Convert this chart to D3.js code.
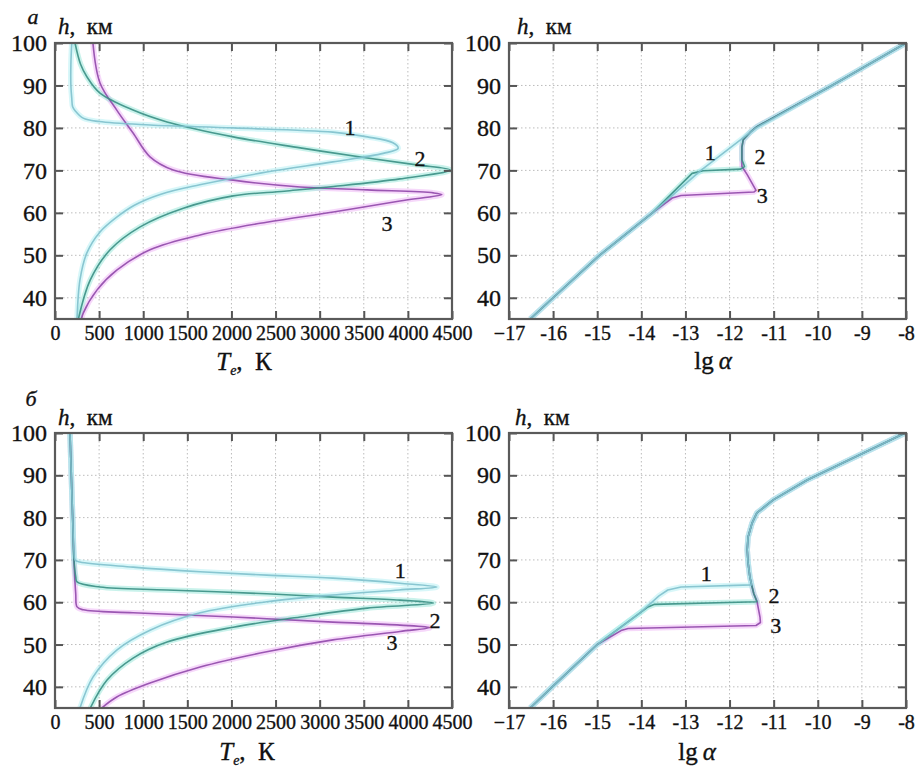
<!DOCTYPE html>
<html><head><meta charset="utf-8">
<script src="https://cdn.jsdelivr.net/npm/d3@7"></script>
<style>
body{margin:0;background:#fff}
svg{display:block}
text{font-family:"Liberation Serif","Times New Roman",Times,"DejaVu Serif",serif;fill:#111}
</style>
</head><body><div id="chart"></div>
<script>
// ---------- data ----------
const heightTicks = [40, 50, 60, 70, 80, 90, 100];
const tempTicks = [0, 500, 1000, 1500, 2000, 2500, 3000, 3500, 4000, 4500];
const alphaTicks = [-17, -16, -15, -14, -13, -12, -11, -10, -9, -8];
const alphaTickLabels = ["\u221217", "-16", "-15", "-14", "-13", "-12", "-11", "-10", "-9", "-8"];
const curveNames = ["1", "2", "3"];

// panel а, Te (K) vs h (km)
const aTemp1 = [[190,100],[180,95],[180,90],[190,87],[200,85],[230,84],[320,82.3],[500,81.5],[1077,80.7],[2020,80],[3150,79],[3540,77.9],[3830,76.5],[3890,75.2],[3720,74],[3150,72],[2400,69.6],[1640,66.6],[1200,64.4],[900,61.8],[700,59],[510,55.5],[360,50.5],[283,44.2],[250,35]];
const aTemp2 = [[227,100],[290,95],[363,92],[510,88.2],[885,84.2],[1270,81.4],[2020,77.9],[2780,75.3],[3540,72.9],[4100,71.3],[4480,70.1],[3910,68],[3155,66.2],[2600,65.1],[2020,64],[1455,61.1],[965,56.7],[625,51.3],[400,44.2],[265,35]];
const aTemp3 = [[430,100],[510,90.6],[700,84.2],[885,78.8],[1077,73.2],[1340,70.1],[2020,67.7],[2780,66.1],[3540,65.4],[4290,64.7],[4385,64.3],[3910,62.8],[3155,60.2],[2400,57.8],[1645,54.8],[1077,51.3],[700,46.5],[475,41.8],[320,36.4],[300,35]];

// panel а, lg alpha vs h
const aAlpha1 = [[-16.52,35],[-16.0,40],[-14.95,50],[-13.75,60],[-12.65,70],[-11.4,80],[-9.68,90],[-8.0,100]];
const aAlpha2 = [[-16.52,35],[-16.0,40],[-14.95,50],[-13.75,60],[-12.85,69.3],[-12.6,69.9],[-11.75,70.3],[-11.66,70.9],[-11.72,72.5],[-11.72,75.5],[-11.69,77.2],[-11.53,79],[-11.38,80.3],[-9.68,90],[-8.0,100]];
const aAlpha3 = [[-16.52,35],[-16.0,40],[-14.95,50],[-13.75,60],[-13.3,63.5],[-13.1,64.1],[-11.45,64.9],[-11.4,65.3],[-11.6,69],[-11.72,70.9],[-11.72,72.5],[-11.72,75.5],[-11.69,77.2],[-11.53,79],[-11.38,80.3],[-9.68,90],[-8.0,100]];

// panel б, Te (K) vs h (km)
const bTemp1 = [[170,100],[185,90],[200,80],[215,72],[227,70],[283,69.5],[885,68.3],[1645,67.2],[2400,66.4],[3150,65.7],[3910,64.5],[4330,63.6],[3900,62.9],[3150,61.7],[2400,60.1],[1645,57.5],[1077,53.4],[700,48.7],[430,42.3],[283,35]];
const bTemp2 = [[170,100],[185,90],[200,80],[215,70],[235,66],[250,64.8],[510,63.6],[1270,62.9],[2400,62],[3150,61.2],[3910,60.5],[4290,59.8],[3540,58.6],[2780,56.5],[2020,54.1],[1270,50.6],[885,46.8],[590,41.6],[400,35]];
const bTemp3 = [[170,100],[185,90],[200,80],[215,70],[235,62],[250,58.9],[320,58.2],[885,57.5],[2020,56.5],[3150,55.3],[3910,54.6],[4250,54],[3910,53.1],[3150,51.1],[2400,48.3],[1645,44.7],[1077,40.9],[700,37.6],[530,35]];

// panel б, lg alpha vs h
const bAlpha1 = [[-16.52,35],[-16.02,40],[-15.0,50],[-14.03,57.5],[-13.6,61.5],[-13.4,62.9],[-13.1,63.6],[-11.5,64.1],[-11.54,66],[-11.58,69.3],[-11.6,72.4],[-11.58,75.4],[-11.49,78.7],[-11.38,81.1],[-11.01,84.2],[-10.24,88.9],[-8.02,100]];
const bAlpha2 = [[-16.52,35],[-16.02,40],[-15.0,50],[-14.03,57.5],[-13.85,58.9],[-13.7,59.5],[-11.38,60.1],[-11.45,62],[-11.5,64.1],[-11.54,66],[-11.58,69.3],[-11.6,72.4],[-11.58,75.4],[-11.49,78.7],[-11.38,81.1],[-11.01,84.2],[-10.24,88.9],[-8.02,100]];
const bAlpha3 = [[-16.52,35],[-16.02,40],[-15.0,50],[-14.44,53.4],[-14.3,53.8],[-11.4,54.5],[-11.3,55.2],[-11.31,56.5],[-11.38,60.3],[-11.45,62],[-11.5,64.1],[-11.54,66],[-11.58,69.3],[-11.6,72.4],[-11.58,75.4],[-11.49,78.7],[-11.38,81.1],[-11.01,84.2],[-10.24,88.9],[-8.02,100]];

// curve-number annotations, in data coordinates [x, h]
const aTempNotes = [[3345,80.0],[4138,72.9],[3764,57.6]];
const aAlphaNotes = [[-12.44,74.3],[-11.31,73.2],[-11.26,64.0]];
const bTempNotes = [[3912,67.6],[4308,55.8],[3821,50.4]];
const bAlphaNotes = [[-12.53,66.9],[-10.99,61.5],[-10.95,54.4]];

// ---------- drawing ----------
const W = 915, H = 771;
const FONT = '"Liberation Serif","Times New Roman",Times,"DejaVu Serif",serif';
const svg = d3.select("#chart").append("svg").attr("width", W).attr("height", H)
  .attr("font-family", FONT);

const colors = [
  {core: "#7fc0cc", glow: "#a9eef2"},
  {core: "#3a8f84", glow: "#88e2d2"},
  {core: "#9048aa", glow: "#eaa8f4"}
];

function styleText(sel) {
  return sel.attr("font-family", FONT).attr("fill", "#111")
    .attr("stroke", "#111").attr("stroke-width", 0.35);
}

function panel(opt) {
  const {x0, x1, y0, y1, xDomain, xTicks, xLabels, series, notes, smooth} = opt;
  const x = d3.scaleLinear().domain(xDomain).range([x0, x1]);
  const y = d3.scaleLinear().domain([35, 100]).range([y1, y0]);
  const g = svg.append("g");

  // grid
  const grid = g.append("g").attr("stroke", "#bcbcbc").attr("stroke-width", 1).attr("stroke-dasharray", "1.5,2.5");
  grid.selectAll("line.v").data(xTicks.slice(1, -1)).join("line")
    .attr("x1", d => x(d)).attr("x2", d => x(d)).attr("y1", y0).attr("y2", y1);
  grid.selectAll("line.h").data(heightTicks.filter(d => d < 100)).join("line")
    .attr("y1", d => y(d)).attr("y2", d => y(d)).attr("x1", x0).attr("x2", x1);

  // curves
  const line = d3.line().x(d => x(d[0])).y(d => y(d[1]))
    .curve(smooth ? d3.curveCatmullRom.alpha(0.5) : d3.curveLinear);
  const clipId = "clip" + Math.round(x0) + "_" + Math.round(y0);
  svg.append("clipPath").attr("id", clipId).append("rect")
    .attr("x", x0).attr("y", y0).attr("width", x1 - x0).attr("height", y1 - y0);
  const cg = g.append("g").attr("clip-path", `url(#${clipId})`);
  const order = [2, 1, 0];
  order.forEach(i => {
    cg.append("path").attr("d", line(series[i])).attr("fill", "none")
      .attr("stroke", colors[i].glow).attr("stroke-width", 5.5).attr("stroke-opacity", 0.45)
      .attr("stroke-linejoin", "round");
  });
  order.forEach(i => {
    cg.append("path").attr("d", line(series[i])).attr("fill", "none")
      .attr("stroke", colors[i].core).attr("stroke-width", 1.6).attr("stroke-opacity", 0.9)
      .attr("stroke-linejoin", "round");
  });

  // axes (inward ticks)
  const axStyle = a => {
    a.attr("font-family", FONT);
    a.select(".domain").remove();
    a.selectAll(".tick line").attr("stroke", "#555").attr("stroke-width", 2);
    styleText(a.selectAll("text"));
  };
  const fmtX = d => xLabels[xTicks.indexOf(d)];
  g.append("g").attr("transform", `translate(0,${y1})`)
    .call(d3.axisBottom(x).tickValues(xTicks).tickSize(-8).tickPadding(7).tickFormat(fmtX))
    .call(axStyle).call(a => a.selectAll("text").attr("font-size", 20));
  g.append("g").attr("transform", `translate(0,${y0})`)
    .call(d3.axisTop(x).tickValues(xTicks).tickSize(-8).tickFormat(""))
    .call(axStyle);
  g.append("g").attr("transform", `translate(${x0},0)`)
    .call(d3.axisLeft(y).tickValues(heightTicks).tickSize(-8).tickPadding(8).tickFormat(d3.format("d")))
    .call(axStyle).call(a => a.selectAll("text").attr("font-size", 24));
  g.append("g").attr("transform", `translate(${x1},0)`)
    .call(d3.axisRight(y).tickValues(heightTicks).tickSize(-8).tickFormat(""))
    .call(axStyle);

  // frame
  g.append("rect").attr("x", x0).attr("y", y0).attr("width", x1 - x0).attr("height", y1 - y0)
    .attr("fill", "none").attr("stroke", "#5a5a5a").attr("stroke-width", 2.2);

  // curve numbers
  styleText(g.selectAll("text.note").data(notes).join("text").attr("class", "note")
    .attr("x", d => x(d[0])).attr("y", d => y(d[1]))
    .attr("text-anchor", "middle").attr("dominant-baseline", "central")
    .attr("font-size", 22).text((d, i) => curveNames[i]));
  return {x, y};
}

const tempLabels = tempTicks.map(String);
const L = {x0: 55, x1: 452}, R = {x0: 509, x1: 906};
const A = {y0: 43, y1: 319}, B = {y0: 433, y1: 708};

panel({...L, ...A, xDomain: [0, 4500], xTicks: tempTicks, xLabels: tempLabels, series: [aTemp1, aTemp2, aTemp3], notes: aTempNotes, smooth: true});
panel({...R, ...A, xDomain: [-17, -8], xTicks: alphaTicks, xLabels: alphaTickLabels, series: [aAlpha1, aAlpha2, aAlpha3], notes: aAlphaNotes, smooth: false});
panel({...L, ...B, xDomain: [0, 4500], xTicks: tempTicks, xLabels: tempLabels, series: [bTemp1, bTemp2, bTemp3], notes: bTempNotes, smooth: true});
panel({...R, ...B, xDomain: [-17, -8], xTicks: alphaTicks, xLabels: alphaTickLabels, series: [bAlpha1, bAlpha2, bAlpha3], notes: bAlphaNotes, smooth: false});

// ---------- titles ----------
function hLabel(xp, yp) {
  const t = styleText(svg.append("text").attr("x", xp).attr("y", yp).attr("font-size", 23));
  t.append("tspan").attr("font-style", "italic").text("h");
  t.append("tspan").text(",\u00a0\u00a0км");
}
function teLabel(cx, yp) {
  const t = styleText(svg.append("text").attr("x", cx).attr("y", yp).attr("text-anchor", "middle").attr("font-size", 25));
  t.append("tspan").attr("font-style", "italic").text("T");
  t.append("tspan").attr("font-style", "italic").attr("font-size", 14).attr("dy", 5).text("e");
  t.append("tspan").attr("dy", -5).text(",\u00a0\u00a0К");
}
function alphaLabel(cx, yp) {
  const t = styleText(svg.append("text").attr("x", cx).attr("y", yp).attr("text-anchor", "middle").attr("font-size", 25));
  t.append("tspan").text("lg\u2009");
  t.append("tspan").attr("font-style", "italic").text("α");
}
styleText(svg.append("text").attr("x", 33).attr("y", 24).attr("text-anchor", "middle").attr("font-size", 22).attr("font-style", "italic").text("а"));
styleText(svg.append("text").attr("x", 31).attr("y", 406).attr("text-anchor", "middle").attr("font-size", 22).attr("font-style", "italic").text("б"));
hLabel(58, 34); hLabel(517, 34); hLabel(58, 425); hLabel(515, 425);
teLabel(244, 370); alphaLabel(713, 369);
teLabel(247, 760); alphaLabel(697, 760);
</script>
</body></html>
